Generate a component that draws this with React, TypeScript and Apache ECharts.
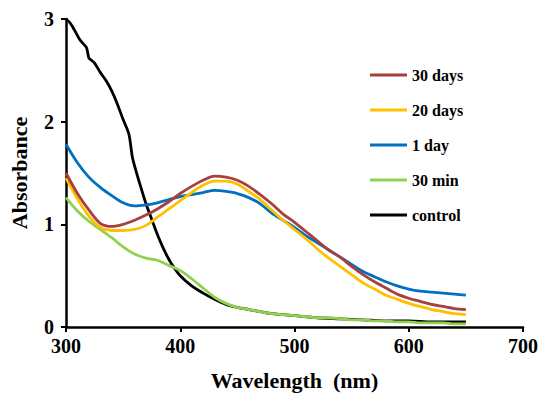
import React, { useEffect, useRef } from "react";
import * as echarts from "echarts";

const wavelengths = [300, 310, 320, 330, 340, 350, 360, 370, 380, 390, 400, 410, 420, 430, 440, 450, 460, 470, 480, 490, 500, 510, 520, 530, 540, 550, 560, 570, 580, 590, 600, 610, 620, 630, 640, 650];

const days30 = [1.50, 1.30, 1.14, 1.01, 0.98, 1.00, 1.04, 1.09, 1.15, 1.22, 1.30, 1.37, 1.43, 1.47, 1.46, 1.43, 1.37, 1.29, 1.20, 1.10, 1.02, 0.93, 0.84, 0.75, 0.68, 0.59, 0.51, 0.44, 0.38, 0.32, 0.28, 0.25, 0.22, 0.20, 0.18, 0.17];
const days20 = [1.45, 1.25, 1.08, 0.97, 0.94, 0.94, 0.95, 0.99, 1.07, 1.15, 1.23, 1.31, 1.38, 1.42, 1.42, 1.39, 1.32, 1.24, 1.14, 1.04, 0.95, 0.86, 0.76, 0.67, 0.59, 0.51, 0.43, 0.37, 0.31, 0.27, 0.23, 0.20, 0.17, 0.15, 0.13, 0.12];
const day1 = [1.78, 1.60, 1.46, 1.36, 1.28, 1.21, 1.18, 1.19, 1.21, 1.24, 1.27, 1.29, 1.31, 1.33, 1.32, 1.30, 1.26, 1.20, 1.11, 1.04, 0.97, 0.89, 0.82, 0.75, 0.68, 0.61, 0.54, 0.49, 0.44, 0.40, 0.37, 0.35, 0.34, 0.33, 0.32, 0.31];
const min30 = [1.26, 1.13, 1.03, 0.95, 0.87, 0.78, 0.71, 0.67, 0.65, 0.60, 0.55, 0.47, 0.38, 0.29, 0.23, 0.19, 0.17, 0.15, 0.13, 0.12, 0.11, 0.10, 0.09, 0.09, 0.08, 0.07, 0.07, 0.06, 0.06, 0.05, 0.05, 0.04, 0.04, 0.04, 0.03, 0.03];

const controlWavelengths = [300, 303, 306, 309, 312, 315, 318, 320, 322, 325, 330, 335, 340, 345, 350, 355, 358, 360, 365, 370, 375, 380, 385, 390, 395, 400, 410, 420, 430, 440, 450, 460, 470, 480, 490, 500, 520, 540, 560, 580, 600, 620, 650];
const control = [3.00, 2.97, 2.92, 2.86, 2.80, 2.76, 2.72, 2.62, 2.60, 2.57, 2.48, 2.40, 2.30, 2.17, 2.02, 1.88, 1.66, 1.57, 1.38, 1.20, 1.05, 0.90, 0.77, 0.66, 0.57, 0.50, 0.40, 0.33, 0.27, 0.22, 0.19, 0.17, 0.15, 0.13, 0.12, 0.11, 0.09, 0.08, 0.07, 0.06, 0.06, 0.05, 0.05];

const seriesNames = ["30 days", "20 days", "1 day", "30 min", "control"];
const seriesColors = ["#A5403D", "#FFC000", "#0070C0", "#92D050", "#000000"];

const xTicks = [300, 400, 500, 600, 700];
const yTicks = [0, 1, 2, 3];

const FONT = "Times New Roman, Liberation Serif, Tinos, serif";

function pairs(xs: number[], ys: number[]) {
  return xs.map((x, i) => [x, ys[i]]);
}

export default function App() {
  const ref = useRef<HTMLDivElement>(null);
  useEffect(() => {
    if (!ref.current) return;
    const chart = echarts.init(ref.current, undefined, { renderer: "svg" });
    const datasets = [
      pairs(wavelengths, days30),
      pairs(wavelengths, days20),
      pairs(wavelengths, day1),
      pairs(wavelengths, min30),
      pairs(controlWavelengths, control),
    ];
    chart.setOption({
      animation: false,
      backgroundColor: "#ffffff",
      textStyle: { fontFamily: FONT },
      grid: { left: 64, right: 19, top: 19, bottom: 62, containLabel: false },
      legend: {
        orient: "vertical",
        left: 365,
        top: 62,
        icon: "rect",
        itemWidth: 37,
        itemHeight: 3,
        itemGap: 19,
        data: seriesNames,
        textStyle: { fontFamily: FONT, fontWeight: "bold", fontSize: 16, color: "#000" },
      },
      xAxis: {
        type: "value",
        min: xTicks[0],
        max: xTicks[xTicks.length - 1],
        interval: 100,
        name: "Wavelength  (nm)",
        nameLocation: "middle",
        nameGap: 42,
        nameTextStyle: { fontFamily: FONT, fontWeight: "bold", fontSize: 22, color: "#000" },
        axisLine: { lineStyle: { color: "#000", width: 2.5 } },
        axisTick: { show: true, inside: false, length: 5, lineStyle: { color: "#000", width: 2 } },
        axisLabel: { fontFamily: FONT, fontWeight: "bold", fontSize: 20, color: "#000", margin: 9 },
        splitLine: { show: false },
      },
      yAxis: {
        type: "value",
        min: yTicks[0],
        max: yTicks[yTicks.length - 1],
        interval: 1,
        name: "Absorbance",
        nameLocation: "middle",
        nameGap: 36,
        nameTextStyle: { fontFamily: FONT, fontWeight: "bold", fontSize: 22, color: "#000" },
        axisLine: { show: true, lineStyle: { color: "#000", width: 2.5 } },
        axisTick: { show: true, inside: false, length: 5, lineStyle: { color: "#000", width: 2 } },
        axisLabel: { fontFamily: FONT, fontWeight: "bold", fontSize: 20, color: "#000", margin: 12 },
        splitLine: { show: false },
      },
      series: seriesNames.map((name, i) => ({
        name,
        type: "line",
        data: datasets[i],
        smooth: 0.3,
        showSymbol: false,
        symbol: "none",
        color: seriesColors[i],
        lineStyle: { color: seriesColors[i], width: 2.8 },
        z: 10 - i,
      })),
    });
    return () => chart.dispose();
  }, []);
  return <div ref={ref} style={{ width: 542, height: 396, position: "absolute", left: 0, top: 0 }} />;
}
